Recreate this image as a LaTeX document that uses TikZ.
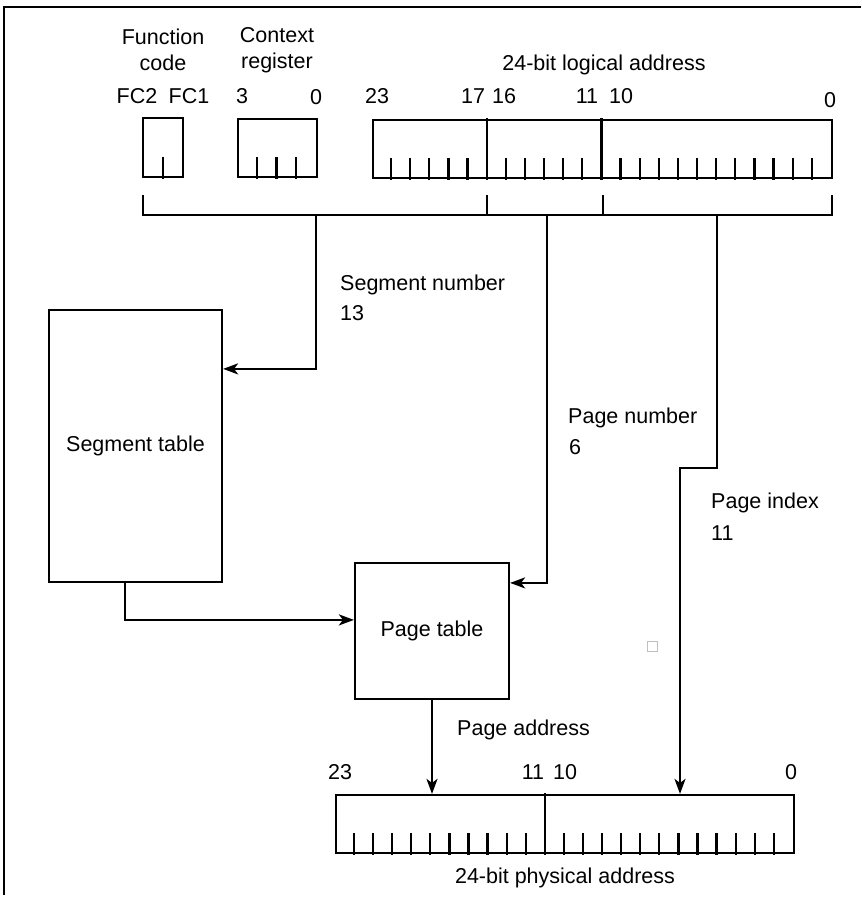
\documentclass[tikz,border=0pt]{standalone}
\usepackage{fontspec}
\setmainfont{Liberation Sans}
\usetikzlibrary{arrows.meta,calc}
\begin{document}
\begin{tikzpicture}[x=1pt,y=-1pt,
  every node/.style={font=\fontsize{21.5}{26}\selectfont, inner sep=0pt},
  ln/.style={line width=2.2pt, line cap=rect},
  arr/.style={line width=2.2pt, -{Stealth[length=15pt,width=11pt,inset=4pt]}},
  regbox/.style={draw, line width=2.2pt, rectangle, inner sep=0pt},
  tablebox/.style={draw, line width=2.2pt, rectangle, inner sep=0pt, align=center},
  lbl/.style={anchor=center},
  wlbl/.style={anchor=west}
]
\useasboundingbox (0,0) rectangle (861,909);
\fill[white] (0,0) rectangle (861,909);
% frame
\draw[line width=2pt] (4,895) -- (4,7) -- (861,7);

% registers
\node[regbox, minimum width=40pt, minimum height=59pt] (fc) at (163,147.5) {};
\node[regbox, minimum width=79pt, minimum height=58pt] (ctx) at (277.5,148) {};
\node[regbox, minimum width=459pt, minimum height=58pt] (log) at (602.5,149) {};
\node[regbox, minimum width=458pt, minimum height=58pt] (phys) at (565,824) {};

% ticks
\draw[ln] ($(fc.south)$) -- ++(0,-20);
\foreach \k in {1,2,3} \draw[ln] ($(ctx.south west)+(19.75*\k,0)$) -- ++(0,-20);
\foreach \k in {1,...,23} {
  \ifnum\k=6 \draw[ln] ($(log.south west)+(19.125*\k,0)$) -- ($(log.north west)+(19.125*\k,0)$);
  \else\ifnum\k=12 \draw[ln] ($(log.south west)+(19.125*\k,0)$) -- ($(log.north west)+(19.125*\k,0)$);
  \else \draw[ln] ($(log.south west)+(19.125*\k,0)$) -- ++(0,-20);\fi\fi
}
\foreach \k in {1,...,23} {
  \ifnum\k=11 \draw[ln] ($(phys.south west)+(19.083*\k,0)$) -- ($(phys.north west)+(19.083*\k,0)$);
  \else \draw[ln] ($(phys.south west)+(19.083*\k,0)$) -- ++(0,-20);\fi
}

% bracket
\coordinate (bl) at (143,215);
\coordinate (br) at (832,215);
\draw[ln] (bl) -- (br);
\foreach \x in {143,487,603,832} \draw[ln] (\x,196) -- (\x,215);
\coordinate (bseg) at (316,215);
\coordinate (bpn) at (547,215);
\coordinate (bpi) at (717,215);

% tables
\node[tablebox, minimum width=173pt, minimum height=272pt] (seg) at (135.5,446) {Segment table};
\node[tablebox, minimum width=154pt, minimum height=136pt] (pt) at (432,631) {Page table};

% connectors
\draw[arr] (bseg) |- ($(seg.north east)+(0,60)$);
\draw[arr] (bpn) |- ($(pt.north east)+(0,21)$);
\coordinate (pijog) at (680,468);
\draw[arr] (bpi) |- (pijog) -- (pijog |- phys.north);
\coordinate (segout) at ($(seg.south west)+(77,0)$);
\draw[arr] (segout) |- ($(pt.north west)+(0,58)$);
\draw[arr] (pt.south) -- (pt.south |- phys.north);

% labels top
\node[lbl, align=center] (lfc) at (163,50) {Function\\code};
\node[lbl, align=center] (lctx) at (277,50) {Context\\register};
\node[lbl] (llog) at (604,65) {24-bit logical address};
\node[lbl] at (137,96) {FC2};
\node[lbl] at (189,96) {FC1};
\node[lbl] at (242,96) {3};
\node[lbl] at (316,97) {0};
\node[lbl] at (377,96) {23};
\node[lbl] at (473,96) {17};
\node[lbl] at (504,96) {16};
\node[lbl] at (587,96) {11};
\node[lbl] at (621,96) {10};
\node[lbl] at (830,100) {0};

% middle labels
\node[wlbl] at (340,285) {Segment number};
\node[wlbl] at (340,313) {13};
\node[wlbl] at (568,418) {Page number};
\node[wlbl] at (569,447) {6};
\node[wlbl] at (711,503) {Page index};
\node[wlbl] at (711,533) {11};
\node[wlbl] at (457,730) {Page address};

% bottom labels
\node[lbl] at (340,772) {23};
\node[lbl] at (533,772) {11};
\node[lbl] at (565,772) {10};
\node[lbl] at (791,772) {0};
\node[lbl] at (565,878) {24-bit physical address};

% small mark
\draw[gray!50, line width=0.8pt] (647,641) rectangle (657,651);
\end{tikzpicture}
\end{document}
